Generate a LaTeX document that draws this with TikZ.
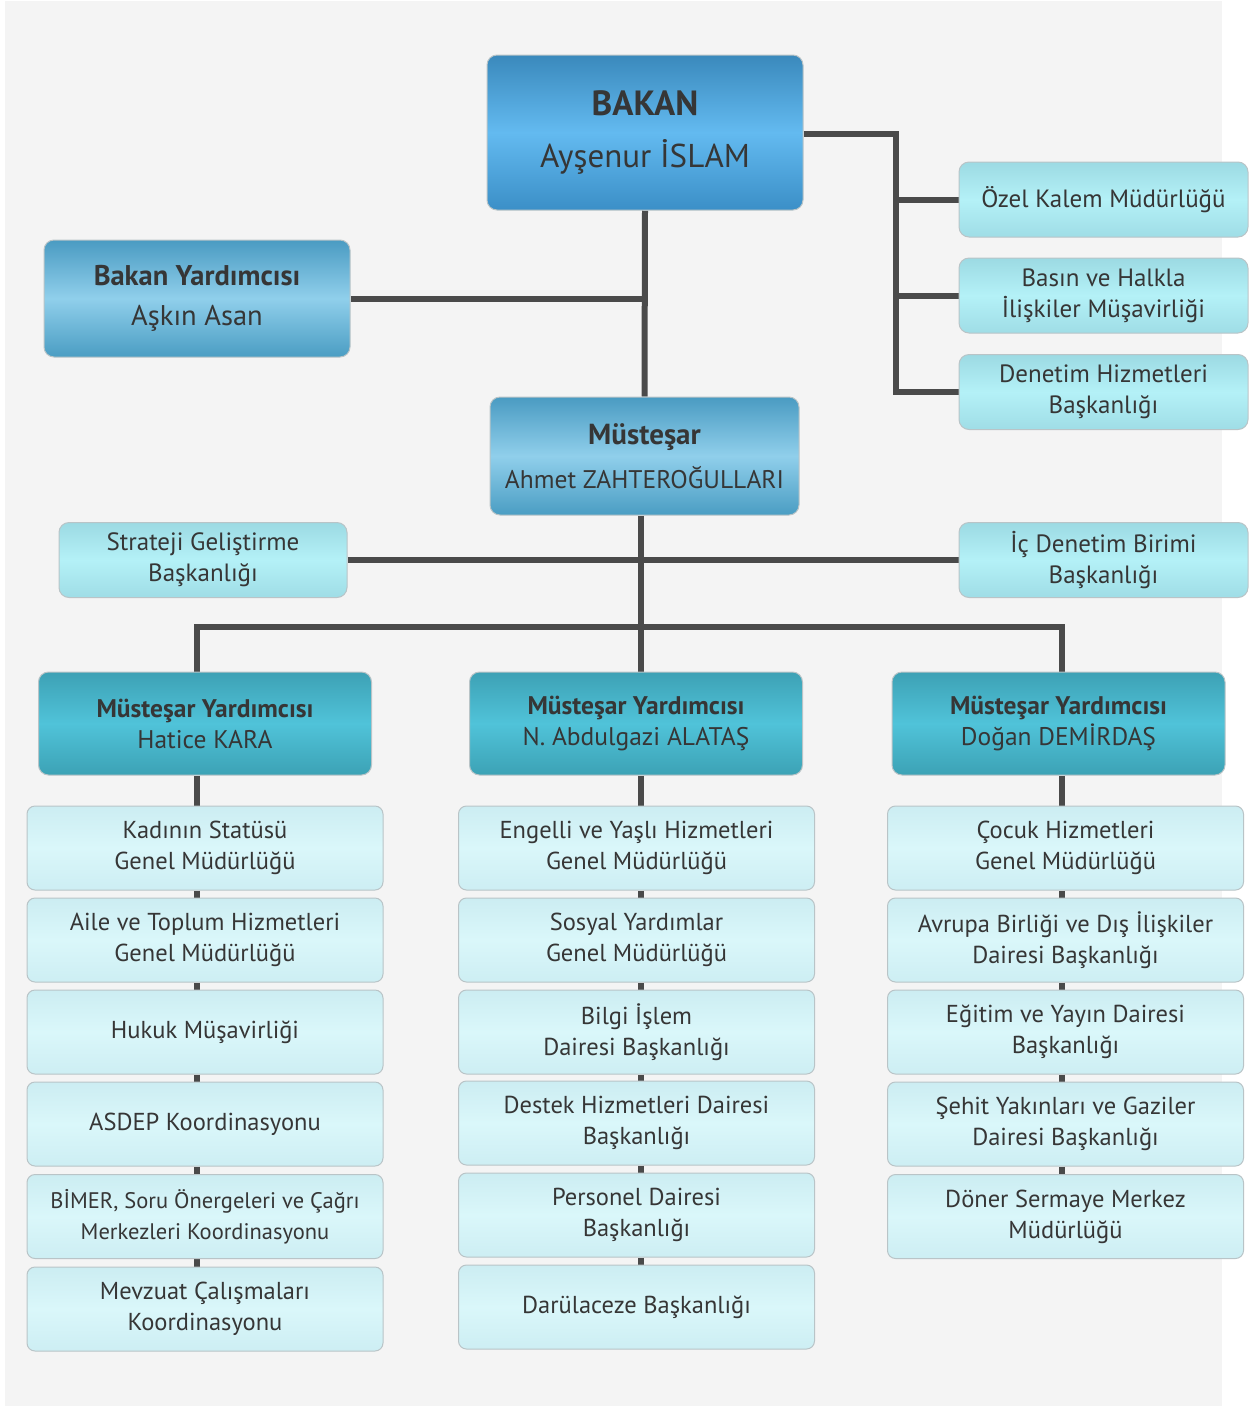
\documentclass[tikz,border=0pt]{standalone}
\usepackage{fontspec}
\setmainfont{PT Sans}
\usetikzlibrary{calc}
\definecolor{bgc}{HTML}{F4F4F4}
\definecolor{txt}{HTML}{363636}
\definecolor{lnc}{HTML}{4A4A4A}
\definecolor{edgec}{HTML}{B9C4C7}
\definecolor{bkT}{HTML}{3A89BC}\definecolor{bkM}{HTML}{63BAF0}\definecolor{bkB}{HTML}{3B8FC7}
\definecolor{blT}{HTML}{4A9BC2}\definecolor{blM}{HTML}{90CFEB}\definecolor{blB}{HTML}{4A9DC3}
\definecolor{cyT}{HTML}{9CDAE3}\definecolor{cyM}{HTML}{B4F1F7}\definecolor{cyB}{HTML}{9FDDE6}
\definecolor{tlT}{HTML}{3DA1B5}\definecolor{tlM}{HTML}{50C3D9}\definecolor{tlB}{HTML}{3CA2B5}
\definecolor{paT}{HTML}{CCEDF2}\definecolor{paM}{HTML}{DAF7FA}\definecolor{paB}{HTML}{CDEEF3}
\pgfdeclarelayer{back}\pgfdeclarelayer{lines}
\pgfsetlayers{back,lines,main}
\tikzset{
  box/.style={rounded corners=10pt, draw=edgec, line width=1pt, text=txt,
    align=center, inner sep=0pt},
  bakanbox/.style={box, top color=bkT, bottom color=bkB, middle color=bkM,
    minimum width=316pt, minimum height=155pt, font=\fontsize{33}{52}\selectfont},
  bluebox/.style={box, top color=blT, bottom color=blB, middle color=blM},
  cyanbox/.style={box, top color=cyT, bottom color=cyB, middle color=cyM,
    minimum width=289pt, minimum height=75pt, font=\fontsize{25}{31}\selectfont},
  tealbox/.style={box, top color=tlT, bottom color=tlB, middle color=tlM,
    minimum width=333pt, minimum height=103pt, font=\fontsize{25.5}{31}\selectfont},
  palebox/.style={box, rounded corners=8pt, top color=paT, bottom color=paB, middle color=paM,
    minimum width=356pt, minimum height=84pt, font=\fontsize{24.5}{31}\selectfont},
  conn/.style={draw=lnc, line width=6pt, line join=miter}
}
\begin{document}
\begin{tikzpicture}[x=1pt,y=-1pt]
\useasboundingbox (0,0) rectangle (1249,1406);
\begin{pgfonlayer}{back}
\fill[white] (0,0) rectangle (1249,1406);
\fill[bgc] (5,1) rectangle (1222,1406);
\end{pgfonlayer}

% top level
\node[bakanbox] (bakan) at (645,132.5) {{\fontsize{35}{52}\selectfont\textbf{BAKAN}}\\Ayşenur İSLAM};
\node[bluebox, minimum width=306pt, minimum height=117pt, font=\fontsize{28.5}{40}\selectfont]
  (byard) at (197,298.5) {\textbf{Bakan Yardımcısı}\\Aşkın Asan};
\node[bluebox, minimum width=309pt, minimum height=118pt, font=\fontsize{25.5}{44}\selectfont]
  (must) at (644.5,456) {{\fontsize{29}{44}\selectfont\textbf{Müsteşar}}\\Ahmet ZAHTEROĞULLARI};

% right side units
\node[cyanbox] (ozel) at (1103.5,199.5) {Özel Kalem Müdürlüğü};
\node[cyanbox] (basin) at (1103.5,295.5) {Basın ve Halkla\\İlişkiler Müşavirliği};
\node[cyanbox] (denh) at (1103.5,392) {Denetim Hizmetleri\\Başkanlığı};
\node[cyanbox, minimum width=288pt] (strat) at (203,560) {Strateji Geliştirme\\Başkanlığı};
\node[cyanbox] (ic) at (1103.5,560) {İç Denetim Birimi\\Başkanlığı};

% deputy undersecretaries
\node[tealbox] (msy1) at (205,723.5) {\textbf{Müsteşar Yardımcısı}\\Hatice KARA};
\node[tealbox] (msy2) at (636,723.5) {\textbf{Müsteşar Yardımcısı}\\N. Abdulgazi ALATAŞ};
\node[tealbox] (msy3) at (1058.5,723.5) {\textbf{Müsteşar Yardımcısı}\\Doğan DEMİRDAŞ};

% column 1
\node[palebox] (a1) at (205,848) {Kadının Statüsü\\Genel Müdürlüğü};
\node[palebox] (a2) at (205,940) {Aile ve Toplum Hizmetleri\\Genel Müdürlüğü};
\node[palebox] (a3) at (205,1032) {Hukuk Müşavirliği};
\node[palebox] (a4) at (205,1124) {ASDEP Koordinasyonu};
\node[palebox, font=\fontsize{22.5}{31}\selectfont] (a5) at (205,1216.5) {BİMER, Soru Önergeleri ve Çağrı\\Merkezleri Koordinasyonu};
\node[palebox] (a6) at (205,1309) {Mevzuat Çalışmaları\\Koordinasyonu};

% column 2
\node[palebox] (b1) at (636.5,848) {Engelli ve Yaşlı Hizmetleri\\Genel Müdürlüğü};
\node[palebox] (b2) at (636.5,940) {Sosyal Yardımlar\\Genel Müdürlüğü};
\node[palebox] (b3) at (636.5,1032) {Bilgi İşlem\\Dairesi Başkanlığı};
\node[palebox] (b4) at (636.5,1123) {Destek Hizmetleri Dairesi\\Başkanlığı};
\node[palebox] (b5) at (636.5,1215) {Personel Dairesi\\Başkanlığı};
\node[palebox] (b6) at (636.5,1307) {Darülaceze Başkanlığı};

% column 3
\node[palebox] (c1) at (1065.5,848) {Çocuk Hizmetleri\\Genel Müdürlüğü};
\node[palebox] (c2) at (1065.5,940) {Avrupa Birliği ve Dış İlişkiler\\Dairesi Başkanlığı};
\node[palebox] (c3) at (1065.5,1032) {Eğitim ve Yayın Dairesi\\Başkanlığı};
\node[palebox] (c4) at (1065.5,1124) {Şehit Yakınları ve Gaziler\\Dairesi Başkanlığı};
\node[palebox] (c5) at (1065.5,1216.5) {Döner Sermaye Merkez\\Müdürlüğü};

% trunk coordinates
\coordinate (rt) at (896,134);
\coordinate (t1) at (197,627);
\coordinate (t2) at (641,627);
\coordinate (t3) at (1062,627);

\begin{pgfonlayer}{lines}
\draw[conn] (bakan.south) -- (must.north);
\draw[conn] (byard.east) -- (byard.east -| bakan.south);
\draw[conn] (bakan.east |- rt) -- (rt) -- (rt |- denh.west) -- (denh.west);
\draw[conn] (ozel.west) -- (ozel.west -| rt);
\draw[conn] (basin.west) -- (basin.west -| rt);
\draw[conn] (must.south -| t2) -- (t2 |- msy2.north);
\draw[conn] (strat.east) -- (ic.west);
\draw[conn] (t1 |- msy1.north) -- (t1) -- (t3) -- (t3 |- msy3.north);
% column chains
\draw[conn] (msy1.south -| t1) -- (a1.north -| t1);
\foreach \u/\v in {a1/a2,a2/a3,a3/a4,a4/a5,a5/a6}
  \draw[conn] (\u.south -| t1) -- (\v.north -| t1);
\draw[conn] (msy2.south -| t2) -- (b1.north -| t2);
\foreach \u/\v in {b1/b2,b2/b3,b3/b4,b4/b5,b5/b6}
  \draw[conn] (\u.south -| t2) -- (\v.north -| t2);
\draw[conn] (msy3.south -| t3) -- (c1.north -| t3);
\foreach \u/\v in {c1/c2,c2/c3,c3/c4,c4/c5}
  \draw[conn] (\u.south -| t3) -- (\v.north -| t3);
\end{pgfonlayer}
\end{tikzpicture}
\end{document}
